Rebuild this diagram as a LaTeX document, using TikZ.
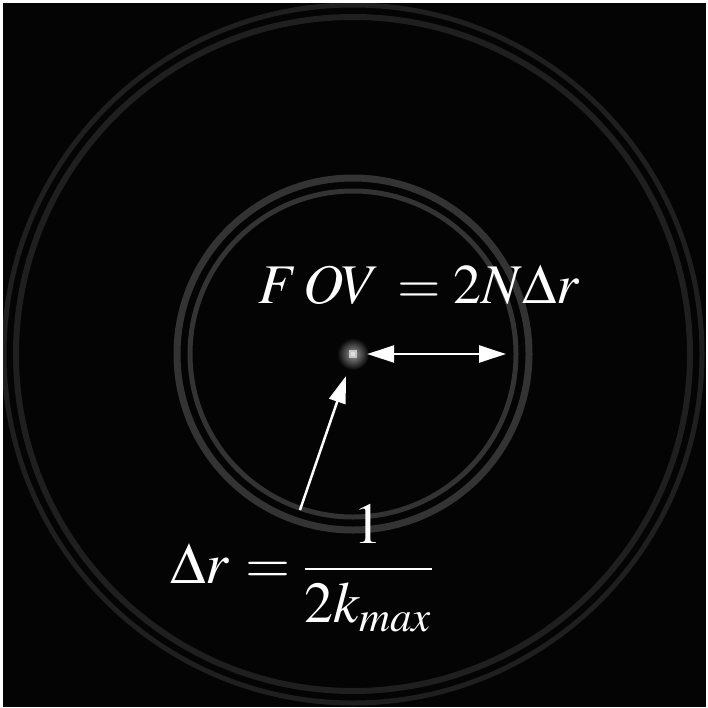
\documentclass[tikz,border=0pt]{standalone}
\usepackage{amsmath}
\usepackage{mathptmx}
\usetikzlibrary{arrows.meta, positioning}
\definecolor{ringin}{gray}{0.2}
\definecolor{ringout}{gray}{0.12}
\definecolor{bgdark}{gray}{0.015}

\begin{document}
\begin{tikzpicture}[x=1pt, y=-1pt,
    lbl/.style={text=white, inner sep=0pt, font=\fontsize{56}{62}\selectfont},
    ring/.style={draw=#1, line width=6pt},
    dotnode/.style={circle, minimum size=28pt, inner sep=0pt},
    arr/.style={-{Triangle[length=27pt, width=17pt]}, line width=2.5pt, white},
    darr/.style={{Triangle[length=27pt, width=17pt]}-{Triangle[length=27pt, width=17pt]}, line width=2.5pt, white}
]
    \useasboundingbox (0,0) rectangle (708,707);
    \fill[white] (0,0) rectangle (708,707);
    \fill[bgdark] (3,3) rectangle (706,707);

    % rings of the point spread function
    \begin{scope}
        \clip (3,3) rectangle (706,707);
        \draw[ring=ringin, line width=5pt] (353,354) circle (163);
        \draw[ring=ringin, line width=7pt] (353,354) circle (176);
        \draw[ring=ringout, line width=6pt] (353,354) circle (337);
        \draw[ring=ringout, line width=5pt] (353,354) circle (349);
    \end{scope}

    % central peak
    \shade[inner color=gray!80!white, outer color=bgdark] (353,354) circle (16);
    \fill[gray!45!white] (349,350) rectangle (357,358);
    \fill[gray!25!white] (351,352) rectangle (355,356);
    \node[dotnode] (ctr) at (353,354) {};

    \coordinate (fovend) at (506,354);
    \coordinate (drtail) at (300,510);
    \coordinate (drtip) at (346,376);

    \draw[darr] (ctr) -- (fovend);
    \draw[arr] (drtail) -- (drtip);

    % labels
    \node[lbl, anchor=base west] (fov) at (258,303)
        {$F\kern6pt OV \kern6pt= 2N\Delta r$};
    \node[lbl, anchor=base west, font=\fontsize{58}{64}\selectfont] (dr) at (170,583)
        {$\Delta r\kern3pt = \genfrac{}{}{2pt}{0}{1\rule[-9pt]{0pt}{9pt}}{2k_{max}}$};
\end{tikzpicture}
\end{document}
